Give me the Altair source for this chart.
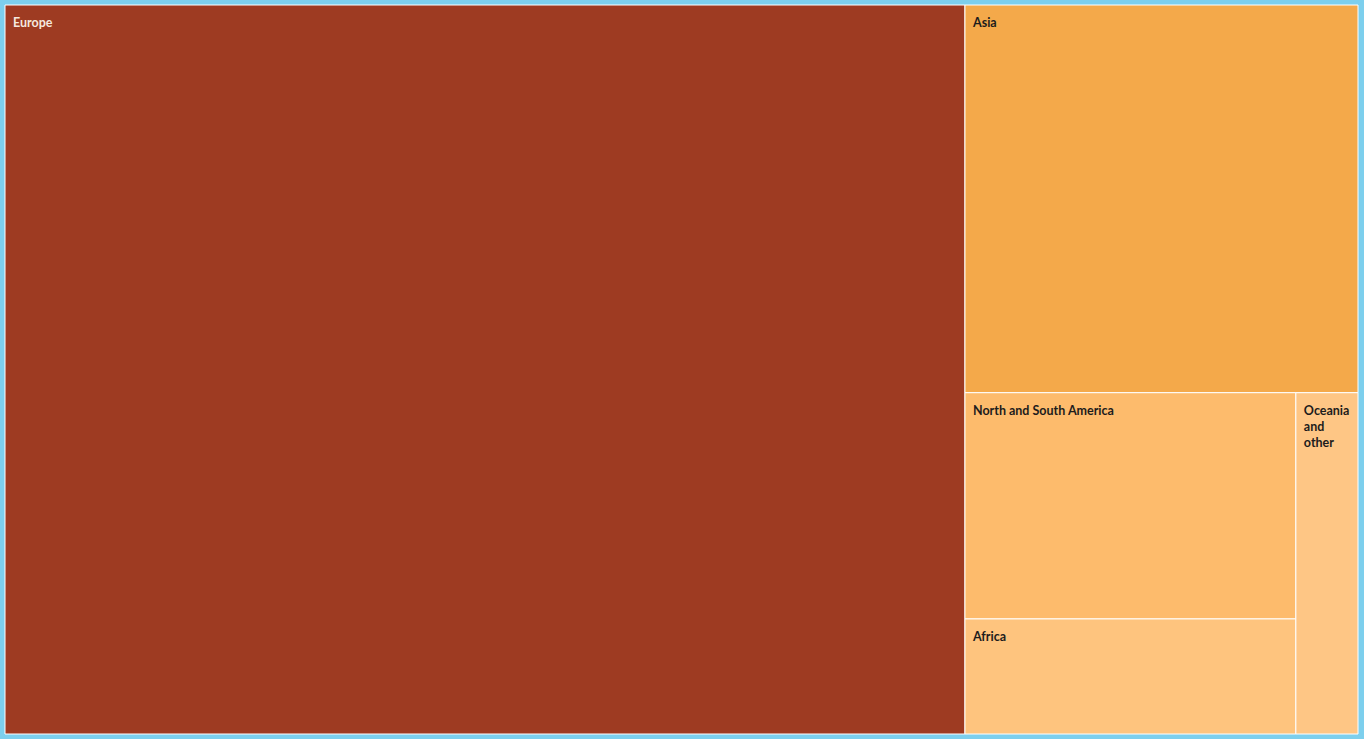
import math
import altair as alt
import pandas as pd

# ---- data ----
regions = ["Europe", "Asia", "North and South America", "Africa", "Oceania and other"]
labels = ["Europe", "Asia", "North and South America", "Africa", "Oceania\nand\nother"]
shares = [70.95, 15.45, 7.59, 3.86, 2.15]
colors = ["#9e3b22", "#f4a94a", "#fdbb6c", "#fec47e", "#fec685"]
text_colors = ["#f5e8df", "#1c1c1c", "#1c1c1c", "#1c1c1c", "#1c1c1c"]

W, H = 1353, 729
PHI = (1 + math.sqrt(5)) / 2


def squarify(values, x0, y0, x1, y1, ratio=PHI):
    """d3-style squarified treemap layout."""
    out = [None] * len(values)
    n = len(values)
    i0 = i1 = 0
    value = sum(values)
    while i0 < n:
        dx, dy = x1 - x0, y1 - y0
        sum_v = values[i1]
        i1 += 1
        min_v = max_v = sum_v
        alpha = max(dy / dx, dx / dy) / (value * ratio)
        beta = sum_v * sum_v * alpha
        min_ratio = max(max_v / beta, beta / min_v)
        while i1 < n:
            nv = values[i1]
            sum_v += nv
            min_v = min(min_v, nv)
            max_v = max(max_v, nv)
            beta = sum_v * sum_v * alpha
            new_ratio = max(max_v / beta, beta / min_v)
            if new_ratio > min_ratio:
                sum_v -= nv
                break
            min_ratio = new_ratio
            i1 += 1
        idx = list(range(i0, i1))
        if dx < dy:  # dice: horizontal row on top
            ny = y0 + dy * sum_v / value
            cx = x0
            for i in idx:
                w = dx * values[i] / sum_v
                out[i] = (cx, y0, cx + w, ny)
                cx += w
            y0 = ny
        else:  # slice: vertical column on left
            nx = x0 + dx * sum_v / value
            cy = y0
            for i in idx:
                h = dy * values[i] / sum_v
                out[i] = (x0, cy, nx, cy + h)
                cy += h
            x0 = nx
        value -= sum_v
        i0 = i1
    return out


rects = squarify(shares, 0, 0, W, H)
df = pd.DataFrame({
    "region": regions,
    "label": labels,
    "share": shares,
    "color": colors,
    "tcolor": text_colors,
    "x0": [r[0] for r in rects],
    "y0": [r[1] for r in rects],
    "x1": [r[2] for r in rects],
    "y1": [r[3] for r in rects],
})

xs = alt.Scale(domain=[0, W], range=[0, W], nice=False, zero=False)
ys = alt.Scale(domain=[0, H], range=[0, H], nice=False, zero=False)

base = alt.Chart(df)

cells = base.mark_rect(stroke="white", strokeWidth=1).encode(
    x=alt.X("x0:Q", scale=xs, axis=None),
    x2="x1:Q",
    y=alt.Y("y0:Q", scale=ys, axis=None),
    y2="y1:Q",
    color=alt.Color("color:N", scale=None),
    tooltip=["region:N", "share:Q"],
)

text = base.mark_text(
    align="left", baseline="alphabetic", dx=8, dy=22,
    font="Lato", fontSize=12.5, fontWeight="bold", lineBreak="\n", lineHeight=16,
).encode(
    x=alt.X("x0:Q", scale=xs, axis=None),
    y=alt.Y("y0:Q", scale=ys, axis=None),
    text="label:N",
    color=alt.Color("tcolor:N", scale=None),
)

chart = alt.layer(cells, text).properties(
    width=W, height=H,
    background="#7dcfed",
    padding={"left": 5, "top": 5, "right": 6, "bottom": 5},
    autosize=alt.AutoSizeParams(type="none"),
).configure_view(stroke=None)

chart.save("out.html", embed_options={"renderer": "svg", "actions": False})
